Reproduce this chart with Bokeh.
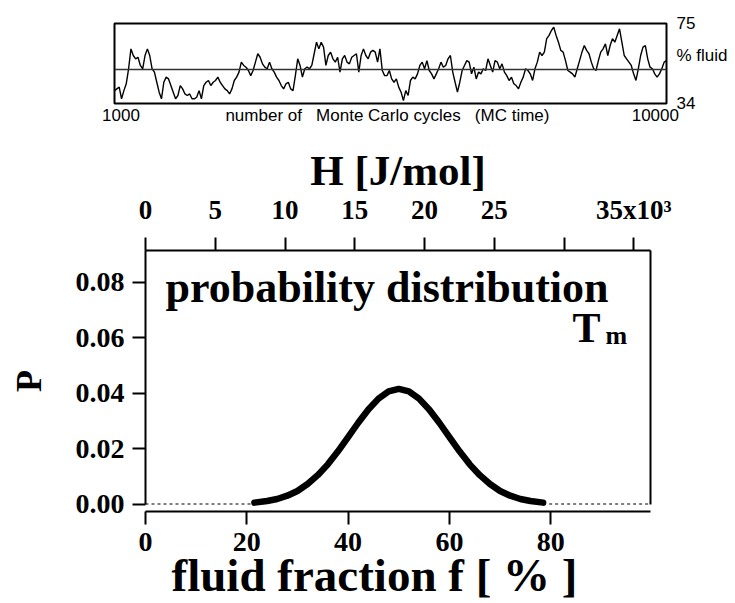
import numpy as np
from bokeh.plotting import figure
from bokeh.models import Range1d, LinearAxis, FixedTicker, Span, Label
from bokeh.embed import file_html
from bokeh.resources import INLINE

# ---------------- data ----------------
mc_start, mc_end = 1000, 10000
fluid_min, fluid_max = 34, 75
fluid_mean = 51.4
fluid_pct = [
    40.6, 41.5, 42.4, 36.4, 40.6, 44.1, 51.8, 62.0, 58.6, 56.9, 57.7, 53.5, 51.8, 58.6, 62.0,
    58.6, 51.8, 50.1, 44.9, 39.8, 36.4, 44.9, 47.5, 46.6, 43.2, 39.8, 36.4, 38.1, 43.2, 41.5,
    38.9, 38.1, 38.9, 36.4, 36.4, 37.2, 40.6, 36.4, 43.2, 44.9, 45.8, 43.2, 44.9, 45.8, 47.5,
    44.9, 43.2, 41.5, 40.6, 38.9, 41.5, 45.8, 47.5, 50.1, 55.2, 53.5, 52.6, 50.9,
    48.3, 50.9, 55.2, 59.5, 57.7, 54.3, 52.6, 51.8, 55.2, 51.8, 50.1, 47.5, 45.8, 43.2, 41.5,
    44.1, 44.9, 41.5, 40.6, 48.3, 56.9, 53.5, 47.5, 51.8, 52.6, 51.8, 53.5, 59.5, 65.4, 62.0,
    65.4, 62.9, 53.5, 58.6, 60.3, 56.9, 55.2, 57.7, 50.1, 56.9, 58.6, 55.2, 54.3, 57.7, 58.6,
    59.5, 50.1, 58.6, 62.0, 58.6, 56.9, 60.3, 61.2, 60.3, 55.2, 62.0, 50.9, 48.3, 48.3, 50.9,
    46.6,
    44.9, 46.6, 42.4, 39.8, 35.5, 40.6, 38.1, 45.8, 47.5, 46.6, 49.2, 53.5, 55.2, 51.8, 56.0,
    50.9, 49.2, 46.6, 49.2, 51.8, 55.2, 52.6, 53.5, 56.9, 58.6, 50.1, 44.9, 39.8, 44.9, 50.9,
    53.5, 56.0, 55.2, 49.2, 52.6, 46.6, 50.1, 49.2, 51.8, 50.9, 56.9, 53.5, 50.1, 56.0, 55.2,
    51.8, 54.3, 50.1, 48.3, 45.8, 47.5, 44.1, 43.2, 41.5, 44.9, 47.5, 51.8, 50.9,
    49.2, 45.8, 51.8, 55.2, 60.3, 58.6, 60.3, 67.2, 68.9, 71.4, 73.1, 68.9, 65.4, 61.2, 60.3,
    56.0, 50.9, 50.1, 49.2, 47.5, 51.8, 56.0, 60.3, 63.7, 61.2, 59.5, 55.2, 51.8, 50.9, 56.0,
    60.3, 62.0, 64.6, 58.6, 63.7, 67.2, 65.4, 68.9, 72.3, 65.4, 58.6, 56.9, 55.2, 53.5, 49.2,
    45.8, 51.8, 58.6, 62.9, 63.7, 56.9, 52.6, 51.8, 49.2, 47.5, 49.2, 51.8, 55.2, 56.0,
]
mc_time = np.linspace(mc_start, mc_end, len(fluid_pct))

# text labels of the small panel (placed at hidden ticks)
top_right_ticks = [34, 58.4, 75]
top_right_labels = {34: "34", 58.4: "% fluid", 75: "75"}
top_bottom_ticks = [1106, 5450, 9818]
top_bottom_labels = {1106: "1000",
                     5450: "number of\u00a0\u00a0\u00a0Monte Carlo cycles\u00a0\u00a0\u00a0(MC time)",
                     9818: "10000"}

f_curve = [21.5, 24, 26, 28, 30, 32, 34, 36, 38, 40, 42, 44, 46, 48, 50,
           52, 54, 56, 58, 60, 62, 64, 66, 68, 70, 72, 74, 76, 78.5]
p_curve = [0.0005, 0.0011, 0.0018, 0.0030, 0.0047, 0.0072, 0.0104, 0.0143, 0.0190, 0.0241,
           0.0293, 0.0341, 0.0380, 0.0406, 0.0415, 0.0406, 0.0380, 0.0341, 0.0293, 0.0241,
           0.0190, 0.0143, 0.0104, 0.0072, 0.0047, 0.0030, 0.0018, 0.0011, 0.0005]
f_dash_left = [0, 21.5]
f_dash_right = [78.5, 99.4]
p_zero = [0, 0]

f_ticks = [0, 20, 40, 60, 80]
p_ticks = [0, 0.02, 0.04, 0.06, 0.08]
p_tick_labels = {0: "0.00", 0.02: "0.02", 0.04: "0.04", 0.06: "0.06", 0.08: "0.08"}
h_ticks = [0, 5, 10, 15, 20, 25, 30, 35]
h_tick_labels = {0: "0", 5: "5", 10: "10", 15: "15", 20: "20", 25: "25", 30: "", 35: "35x10\u00b3"}

SERIF = "Liberation Serif"
SANS = "Liberation Sans"

# ---------------- top panel: MC time series ----------------
top = figure(width=735, height=130, x_range=Range1d(mc_start, mc_end),
             y_range=Range1d(fluid_min, fluid_max),
             x_axis_location=None, y_axis_location=None,
             toolbar_location=None, output_backend="svg",
             min_border_left=114, min_border_right=69, min_border_top=23, min_border_bottom=27)
top.outline_line_color = "black"
top.outline_line_width = 2
top.grid.visible = False
top.line(mc_time, fluid_pct, line_color="black", line_width=1.4)
top.add_layout(Span(location=fluid_mean, dimension="width", line_color="#333333", line_width=1.5))

def text_axis(ax, size, standoff):
    ax.axis_line_color = None
    ax.major_tick_line_color = None
    ax.minor_tick_line_color = None
    ax.major_tick_out = 0
    ax.major_tick_in = 0
    ax.major_label_text_font = SANS
    ax.major_label_text_font_size = size
    ax.major_label_text_color = "black"
    ax.major_label_standoff = standoff

ax_tr = LinearAxis(ticker=FixedTicker(ticks=top_right_ticks), major_label_overrides=top_right_labels)
text_axis(ax_tr, "17px", 10)
top.add_layout(ax_tr, "right")
ax_tb = LinearAxis(ticker=FixedTicker(ticks=top_bottom_ticks), major_label_overrides=top_bottom_labels)
text_axis(ax_tb, "17px", 2)
top.add_layout(ax_tb, "below")

# ---------------- main panel: probability distribution ----------------
main = figure(width=735, height=473, x_range=Range1d(0, 99.7), y_range=Range1d(-0.0027, 0.0914),
              toolbar_location=None, output_backend="svg",
              min_border_left=145, min_border_right=85, min_border_top=120, min_border_bottom=91)
main.outline_line_color = None
main.grid.visible = False
main.extra_x_ranges = {"H": Range1d(0, 36.2)}

def style_axis(ax, size="28px", standoff=10):
    ax.axis_line_color = "black"
    ax.axis_line_width = 2
    ax.major_tick_line_color = "black"
    ax.major_tick_line_width = 2
    ax.major_tick_out = 13
    ax.major_tick_in = 0
    ax.minor_tick_line_color = None
    ax.major_label_text_font = SERIF
    ax.major_label_text_font_style = "bold"
    ax.major_label_text_font_size = size
    ax.major_label_text_color = "black"
    ax.major_label_standoff = standoff
    ax.axis_label_text_font = SERIF
    ax.axis_label_text_font_style = "bold"
    ax.axis_label_text_color = "black"

xa = main.xaxis[0]
xa.ticker = FixedTicker(ticks=f_ticks)
style_axis(xa, "28px", 8)
xa.axis_label = "fluid fraction f [ % ]" + "\u00a0" * 4
xa.axis_label_text_font_size = "47px"
xa.axis_label_standoff = -5

ya = main.yaxis[0]
ya.ticker = FixedTicker(ticks=p_ticks)
ya.major_label_overrides = p_tick_labels
ya.bounds = (0, 0.0914)
style_axis(ya, "28px", 8)
ya.axis_label = "P"
ya.axis_label_text_font_size = "36px"
ya.axis_label_standoff = 24

ax_top = LinearAxis(x_range_name="H", ticker=FixedTicker(ticks=h_ticks),
                    major_label_overrides=h_tick_labels)
style_axis(ax_top, "27px", 13)
ax_top.axis_label = "H [J/mol]"
ax_top.axis_label_text_font_size = "43px"
ax_top.axis_label_standoff = -2
main.add_layout(ax_top, "above")

ax_right = LinearAxis(ticker=FixedTicker(ticks=[]), bounds=(0, 0.0914))
ax_right.axis_line_width = 2
ax_right.major_label_text_font_size = "0px"
ax_right.minor_tick_line_color = None
main.add_layout(ax_right, "right")

main.line(f_dash_left, p_zero, line_color="black", line_width=1.2, line_dash="3 3")
main.line(f_dash_right, p_zero, line_color="black", line_width=1.2, line_dash="3 3")
main.line(f_curve, p_curve, line_color="black", line_width=6.5, line_join="round", line_cap="round")

def tlabel(p, x, y, text, size):
    p.add_layout(Label(x=x, y=y, text=text, text_font=SERIF, text_font_size=size,
                       text_font_style="bold", text_align="left", text_baseline="alphabetic",
                       text_color="black"))

tlabel(main, 3.95, 0.0781, "probability distribution", "44px")
tlabel(main, 84.3, 0.0634, "T", "42px")
tlabel(main, 90.8, 0.0609, "m", "26px")

open("out.html", "w").write(file_html([top, main], INLINE))
